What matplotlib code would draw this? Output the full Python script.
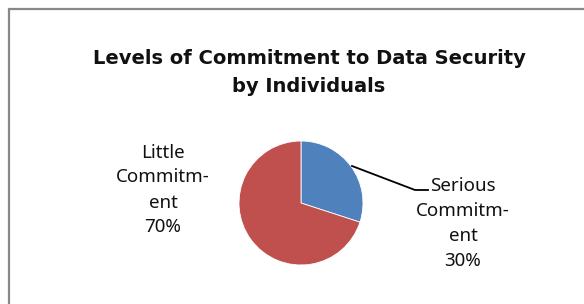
import matplotlib
matplotlib.use("Agg")
import matplotlib.pyplot as plt
from matplotlib.patches import Rectangle

categories = ["Serious\nCommitm-\nent", "Little\nCommitm-\nent"]
values = [30, 70]
colors = ["#4F81BD", "#C0504D"]
title = "Levels of Commitment to Data Security\nby Individuals"

W, H = 584, 304
fig = plt.figure(figsize=(W / 100, H / 100), dpi=100)
ax = fig.add_axes([0, 0, 1, 1])

cx, cy, r = 301, H - 203, 62
ax.pie(values, colors=colors, startangle=90, counterclock=False,
       center=(cx, cy), radius=r,
       wedgeprops=dict(edgecolor="white", linewidth=0.6))
ax.set_xlim(0, W)
ax.set_ylim(0, H)
ax.set_aspect("equal")
ax.axis("off")

ax.add_patch(Rectangle((9, -20), W + 20, H - 9 + 20, fill=False,
                       edgecolor="#888888", linewidth=1.6))

ax.text(309, H - 72.5, title, ha="center", va="center",
        fontsize=14, fontweight="bold", family="DejaVu Sans",
        linespacing=1.6, color="#111111")

total = sum(values)
lbl0 = f"{categories[0]}\n{round(values[0] / total * 100)}%"
lbl1 = f"{categories[1]}\n{round(values[1] / total * 100)}%"
ax.text(463, H - 223.5, lbl0, ha="center", va="center", fontsize=13.5,
        family="Noto Sans", linespacing=1.5, color="#111111")
ax.text(163, H - 190, lbl1, ha="center", va="center", fontsize=13.5,
        family="Noto Sans", linespacing=1.5, color="#111111")

ax.plot([352, 415, 428], [H - 166, H - 190, H - 190], color="black",
        linewidth=1.3)

fig.savefig("out.png", dpi=100)
